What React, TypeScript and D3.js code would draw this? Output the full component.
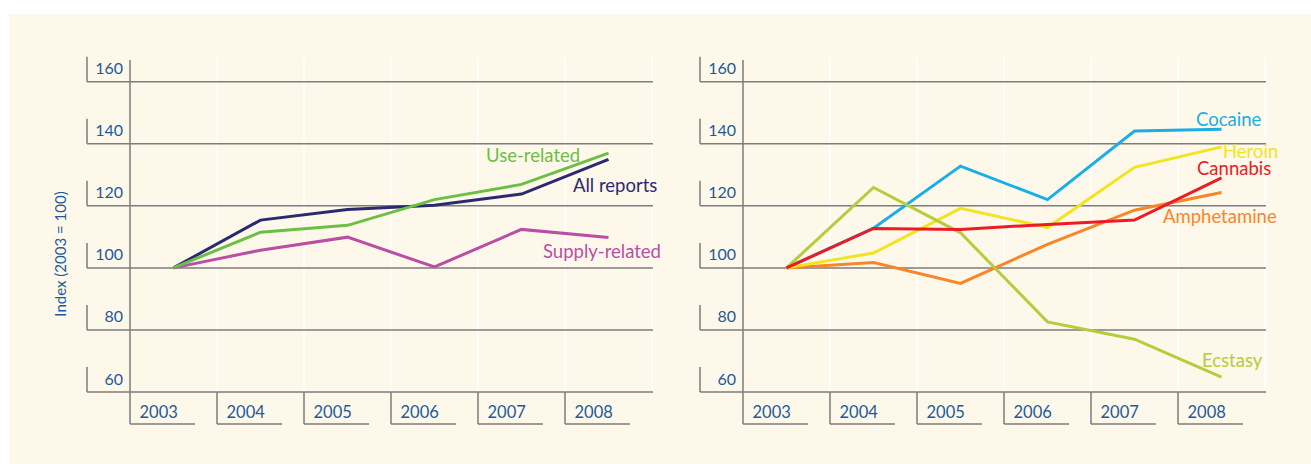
import React from "react";
import * as d3 from "d3";

const years = ["2003", "2004", "2005", "2006", "2007", "2008"];
const yTicks = [60, 80, 100, 120, 140, 160];

const allReports = [100, 115.4, 118.8, 120.2, 123.8, 135];
const useRelated = [100, 111.5, 113.7, 122, 126.9, 137];
const supplyRelated = [100, 105.7, 109.9, 100.3, 112.4, 109.8];

const cocaine = [100, 112.8, 132.8, 122, 144.1, 144.7];
const heroin = [100, 104.8, 119.2, 113, 132.4, 139];
const cannabis = [100, 112.7, 112.4, 114, 115.4, 129];
const amphetamine = [100, 101.7, 95, 107.6, 118.6, 124.3];
const ecstasy = [100, 125.9, 111.3, 82.6, 77, 64.8];

const leftSeries = [
  { name: "Supply-related", values: supplyRelated, color: "#b84fa5", lx: 543, ly: 258 },
  { name: "All reports", values: allReports, color: "#2b2a70", lx: 573, ly: 192 },
  { name: "Use-related", values: useRelated, color: "#6cbf45", lx: 486, ly: 161.5 },
];
const rightSeries = [
  { name: "Cocaine", values: cocaine, color: "#1aaee6", lx: 1196, ly: 126 },
  { name: "Amphetamine", values: amphetamine, color: "#f7862a", lx: 1163, ly: 222.5 },
  { name: "Heroin", values: heroin, color: "#f2e41f", lx: 1223, ly: 158 },
  { name: "Ecstasy", values: ecstasy, color: "#b5cc3c", lx: 1202, ly: 366.5 },
  { name: "Cannabis", values: cannabis, color: "#ec1c24", lx: 1197, ly: 175 },
];

const FONT = "Lato, 'Noto Sans', sans-serif";
const GRAY = "#7d7d7d";
const BLUE = "#1d5a9b";

const y = d3.scaleLinear().domain([60, 160]).range([392, 81.7]);

function Panel({ x0, series }: { x0: number; series: typeof leftSeries }) {
  const x = d3.scaleBand().domain(years).range([x0, x0 + 522]).padding(0);
  const bw = x.bandwidth();
  const line = d3
    .line<number>()
    .x((_, i) => (x(years[i]) as number) + bw / 2)
    .y((v) => y(v));
  const gridLeft = x0 - 43;
  const gridRight = x0 + 523;
  return (
    <g>
      {/* white vertical band separators */}
      {years.slice(1).concat(["end"]).map((yr, i) => {
        const xx = yr === "end" ? x0 + 522 : (x(yr) as number);
        return (
          <line key={"w" + i} x1={xx} x2={xx} y1={57} y2={392} stroke="#ffffff" strokeWidth={1.5} />
        );
      })}
      {/* horizontal gridlines and tick brackets */}
      {yTicks.map((t) => (
        <g key={t}>
          <line x1={gridLeft} x2={gridRight} y1={y(t)} y2={y(t)} stroke={GRAY} strokeWidth={1.5} />
          <line x1={gridLeft} x2={gridLeft} y1={y(t) - 25} y2={y(t)} stroke={GRAY} strokeWidth={1.5} />
          <text
            x={x0 - 7}
            y={y(t) - 7.5}
            textAnchor="end"
            fontFamily={FONT}
            fontSize={16}
            fill={BLUE}
          >
            {t}
          </text>
        </g>
      ))}
      {/* y axis */}
      <line x1={x0} x2={x0} y1={60} y2={392} stroke={GRAY} strokeWidth={1.5} />
      {/* category brackets */}
      {years.map((yr) => {
        const bx = x(yr) as number;
        return (
          <g key={yr}>
            <line x1={bx} x2={bx} y1={392} y2={424} stroke={GRAY} strokeWidth={1.5} />
            <line x1={bx} x2={bx + 65} y1={424} y2={424} stroke={GRAY} strokeWidth={1.5} />
            <text x={bx + 9.5} y={418} fontFamily={FONT} fontSize={16.5} fill={BLUE}>
              {yr}
            </text>
          </g>
        );
      })}
      {/* data lines */}
      {series.map((s) => (
        <path
          key={s.name}
          d={line(s.values) as string}
          fill="none"
          stroke={s.color}
          strokeWidth={3}
          strokeLinejoin="miter"
        />
      ))}
      {series.map((s) => (
        <text key={"l" + s.name} x={s.lx} y={s.ly} fontFamily={FONT} fontSize={18.5} fill={s.color}>
          {s.name}
        </text>
      ))}
    </g>
  );
}

export default function App() {
  return (
    <svg
      width={1311}
      height={464}
      style={{ position: "absolute", left: 0, top: 0 }}
    >
      <rect x={0} y={0} width={1311} height={464} fill="#ffffff" />
      <rect x={9} y={14} width={1302} height={450} fill="#fef8ea" />
      <Panel x0={130} series={leftSeries} />
      <Panel x0={743} series={rightSeries} />
      <text
        transform={`translate(66, 254) rotate(-90)`}
        textAnchor="middle"
        fontFamily={FONT}
        fontSize={15}
        fill={BLUE}
      >
        Index (2003 = 100)
      </text>
    </svg>
  );
}
